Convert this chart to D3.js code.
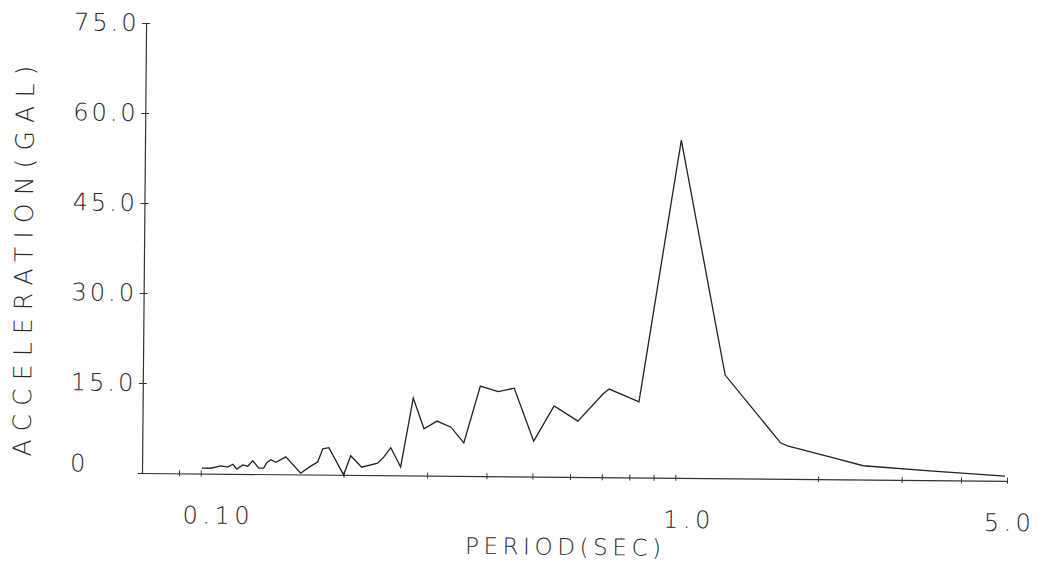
<!DOCTYPE html>
<html>
<head>
<meta charset="utf-8">
<script src="https://cdn.jsdelivr.net/npm/d3@7"></script>
<style>
  html, body { margin: 0; padding: 0; background: #fff; }
  svg { display: block; }
  text { font-family: "DejaVu Sans", sans-serif; font-weight: 200; fill: #2a2a2a; }
</style>
</head>
<body>
<svg id="chart" width="1054" height="562"></svg>
<script>
// ---- data ----
const periods = [0.1005,0.1050,0.1102,0.1140,0.1168,0.1191,0.1226,0.1256,0.1286,0.1325,
  0.1357,0.1377,0.1404,0.1439,0.1510,0.1624,0.1704,0.1763,0.1806,0.1860,
  0.2000,0.2069,0.2183,0.2358,0.2428,0.2512,0.2637,0.2795,0.2948,0.3140,
  0.3360,0.3579,0.3868,0.4220,0.4560,0.5023,0.5537,0.6220,0.7022,0.7229,
  0.8357,1.0146,1.268,1.664,1.721,2.194,2.488,3.493,4.953];
const accel = [0.9,0.9,1.3,1.1,1.6,0.8,1.5,1.3,2.2,1.0,
  1.0,1.9,2.4,2.0,2.9,0.2,1.4,2.1,4.3,4.5,
  0.0,3.2,1.3,2.0,3.0,4.6,1.4,12.9,7.8,9.1,
  8.1,5.5,15.0,14.1,14.7,5.9,11.8,9.3,13.9,14.7,
  12.6,56.3,17.2,6.0,5.5,3.4,2.3,1.5,0.8];
const xTickValues = [0.09,0.1,0.2,0.3,0.4,0.5,0.6,0.7,0.8,0.9,1,2,3,4,5];
const xLabelValues = [0.1, 1, 5];
const xLabelTexts = ["0.10", "1.0", "5.0"];
const yTickValues = [0, 15, 30, 45, 60, 75];
const yLabelTexts = ["0", "15.0", "30.0", "45.0", "60.0", "75.0"];
const xTitle = "PERIOD(SEC)";
const yTitle = "ACCELERATION(GAL)";

// ---- drawing ----
const svg = d3.select("#chart");
svg.append("rect").attr("width", 1054).attr("height", 562).attr("fill", "#fff");

const originX = 142, originY = 473;
const x = d3.scaleLog().domain([0.0752, 5]).range([originX, 1007]);
const y = d3.scaleLinear().domain([0, 75]).range([originY, 23]);

// the scanned plot is slightly rotated clockwise
const g = svg.append("g").attr("transform", `rotate(0.52, ${originX}, ${originY})`);

// x axis
const xAxis = d3.axisBottom(x).tickValues(xTickValues).tickFormat("").tickSizeOuter(0).tickSizeInner(3);
const gx = g.append("g").attr("transform", `translate(0,${originY})`).call(xAxis);
gx.select(".domain").attr("stroke", "#333").attr("stroke-width", 1.2);
gx.selectAll(".tick line").attr("y1", -3).attr("y2", 3).attr("stroke", "#333");

// y axis
const yAxis = d3.axisLeft(y).tickValues(yTickValues).tickFormat("").tickSizeOuter(0).tickSizeInner(3);
const gy = g.append("g").attr("transform", `translate(${originX},0)`).call(yAxis);
gy.select(".domain").attr("stroke", "#333").attr("stroke-width", 1.2);
gy.selectAll(".tick line").attr("x1", -4).attr("x2", 4).attr("stroke", "#333");

// y tick labels (left aligned like the plotter output)
g.selectAll(".ylab").data(yTickValues).enter().append("text")
  .attr("class", "ylab")
  .attr("x", 70)
  .attr("y", d => y(d) + (d === 0 ? -9 : 0))
  .attr("dominant-baseline", "central")
  .attr("font-size", 24)
  .attr("letter-spacing", 3)
  .text((d, i) => yLabelTexts[i]);

// x tick labels
const xLabelShift = [18, 14, 3];
g.selectAll(".xlab").data(xLabelValues).enter().append("text")
  .attr("class", "xlab")
  .attr("x", (d, i) => x(d) + xLabelShift[i])
  .attr("y", 515)
  .attr("dominant-baseline", "central")
  .attr("text-anchor", "middle")
  .attr("font-size", 24)
  .attr("letter-spacing", 4.5)
  .text((d, i) => xLabelTexts[i]);

// axis titles
g.append("text")
  .attr("x", 566).attr("y", 543)
  .attr("dominant-baseline", "central")
  .attr("text-anchor", "middle")
  .attr("font-size", 23)
  .attr("letter-spacing", 4.6)
  .text(xTitle);

g.append("text")
  .attr("transform", "translate(22,258) rotate(-90)")
  .attr("dominant-baseline", "central")
  .attr("text-anchor", "middle")
  .attr("font-size", 25)
  .attr("letter-spacing", 8.2)
  .text(yTitle);

// spectrum line
const line = d3.line().x(d => x(d[0])).y(d => y(d[1]));
g.append("path")
  .datum(periods.map((p, i) => [p, accel[i]]))
  .attr("fill", "none")
  .attr("stroke", "#222")
  .attr("stroke-width", 1.3)
  .attr("stroke-linejoin", "miter")
  .attr("d", line);
</script>
</body>
</html>
